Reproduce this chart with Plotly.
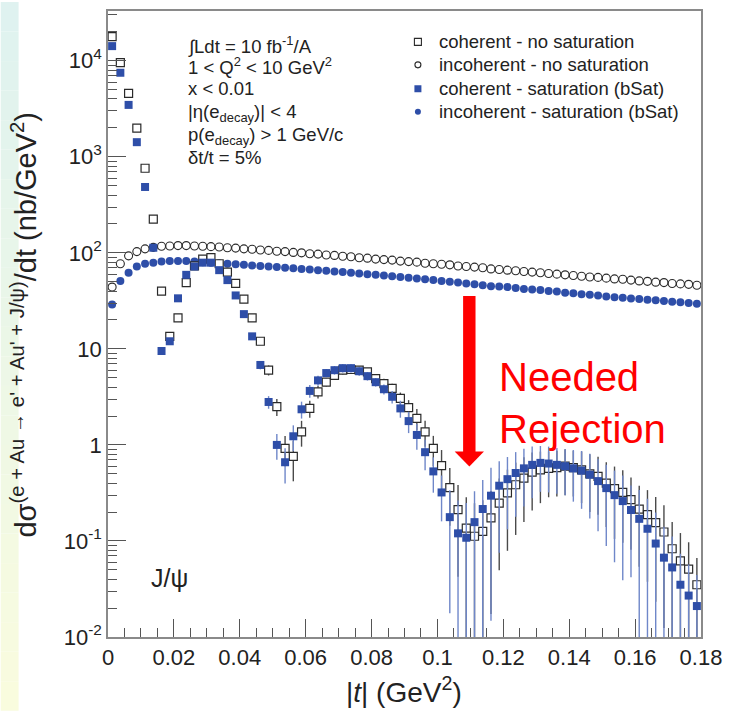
import plotly.graph_objects as go

# ---------------- data ----------------
t_centers = [
    0.00125, 0.00375, 0.00625, 0.00875, 0.01125, 0.01375, 0.01625, 0.01875, 0.02125, 0.02375,
    0.02625, 0.02875, 0.03125, 0.03375, 0.03625, 0.03875, 0.04125, 0.04375, 0.04625, 0.04875,
    0.05125, 0.05375, 0.05625, 0.05875, 0.06125, 0.06375, 0.06625, 0.06875, 0.07125, 0.07375,
    0.07625, 0.07875, 0.08125, 0.08375, 0.08625, 0.08875, 0.09125, 0.09375, 0.09625, 0.09875,
    0.10125, 0.10375, 0.10625, 0.10875, 0.11125, 0.11375, 0.11625, 0.11875, 0.12125, 0.12375,
    0.12625, 0.12875, 0.13125, 0.13375, 0.13625, 0.13875, 0.14125, 0.14375, 0.14625, 0.14875,
    0.15125, 0.15375, 0.15625, 0.15875, 0.16125, 0.16375, 0.16625, 0.16875, 0.17125, 0.17375,
    0.17625, 0.17875,
]

coherent_nosat = [
    17800, 9550, 4570, 1990, 760, 224, 40, 13.5, 21, 49,
    73, 86, 89, 77, 63, 48, 33, 21, 12, 6.0,
    2.5, 0.92, 0.76, 1.37, 2.4, 3.57, 4.5, 5.3, 6.0, 6.1,
    6.0, 5.75, 4.9, 4.35, 3.87, 3.05, 2.44, 1.89, 1.37, 0.92,
    0.61, 0.36, 0.212, 0.136, 0.112, 0.126, 0.174, 0.248, 0.316, 0.385,
    0.45, 0.52, 0.55, 0.57, 0.58, 0.60, 0.58, 0.55, 0.50, 0.47,
    0.40, 0.35, 0.32, 0.27, 0.215, 0.188, 0.155, 0.124, 0.083, 0.062,
    0.051, 0.035,
]

coherent_sat = [
    14200, 7500, 3470, 1420, 485, 113, 9.5, 12.0, 33.6, 59,
    72, 79, 79, 66, 52, 36, 23, 13.5, 6.8, 2.8,
    1.0, 0.66, 1.23, 2.35, 3.65, 4.7, 5.6, 6.0, 6.3, 6.3,
    5.85, 5.2, 4.5, 3.8, 3.17, 2.4, 1.77, 1.27, 0.84, 0.53,
    0.32, 0.177, 0.12, 0.108, 0.157, 0.215, 0.296, 0.376, 0.44, 0.51,
    0.57, 0.62, 0.65, 0.64, 0.62, 0.60, 0.57, 0.54, 0.49, 0.42,
    0.355, 0.30, 0.26, 0.21, 0.17, 0.134, 0.094, 0.067, 0.053, 0.035,
    0.027, 0.021,
]

incoherent_nosat = [
    44, 77, 93, 103, 110, 114, 117, 118, 119, 119,
    118, 117, 116, 115, 113, 112, 110, 109, 107, 106,
    104, 103, 101, 100, 98, 97, 95, 94, 92, 91,
    89, 88, 86, 85, 84, 82, 81, 80, 78, 77,
    76, 75, 73, 72, 71, 70, 68, 67, 66, 65,
    64, 63, 62, 61, 60, 59, 58, 57, 56, 55.5,
    54.5, 53.5, 53, 52, 51, 50.5, 49.5, 49, 48, 47.5,
    47, 46,
]

incoherent_sat = [
    29, 51, 62, 72, 77, 79, 81, 82, 82, 82,
    81, 80, 79, 78, 77, 76, 75, 74, 73, 72,
    71, 70, 69, 68, 67, 66, 65, 64, 63, 62,
    61, 60, 59, 58, 57, 56, 55, 54, 53, 52,
    51, 50, 49, 48, 47, 46, 45, 44.5, 44, 43,
    42, 41.5, 41, 40, 39.5, 38.5, 38, 37, 36.5, 36,
    35, 34.5, 34, 33.5, 33, 32.5, 32, 31.5, 31, 30.5,
    30, 29.5,
]

# relative (symmetric, linear) statistical uncertainties of the coherent points
rel_err_nosat = [
    0.03, 0.03, 0.03, 0.03, 0.03, 0.03, 0.03, 0.03, 0.03, 0.03,
    0.03, 0.03, 0.03, 0.03, 0.03, 0.03, 0.03, 0.05, 0.08, 0.12,
    0.20, 0.35, 0.45, 0.30, 0.20, 0.15, 0.10, 0.10, 0.10, 0.10,
    0.10, 0.10, 0.10, 0.12, 0.12, 0.15, 0.20, 0.25, 0.30, 0.35,
    0.45, 0.60, 0.80, 1.10, 1.20, 1.10, 0.90, 0.80, 0.75, 0.70,
    0.65, 0.60, 0.55, 0.50, 0.50, 0.50, 0.50, 0.55, 0.60, 0.60,
    0.65, 0.70, 0.70, 0.70, 0.75, 0.80, 0.85, 0.90, 0.90, 0.95,
    0.90, 0.90,
]
rel_err_sat = [
    0.03, 0.03, 0.03, 0.03, 0.03, 0.03, 0.05, 0.05, 0.03, 0.03,
    0.03, 0.03, 0.03, 0.03, 0.03, 0.03, 0.04, 0.06, 0.10, 0.15,
    0.30, 0.40, 0.30, 0.20, 0.15, 0.12, 0.10, 0.10, 0.10, 0.10,
    0.10, 0.10, 0.10, 0.12, 0.15, 0.20, 0.25, 0.30, 0.35, 0.40,
    0.50, 0.90, 1.20, 1.30, 1.10, 1.00, 0.95, 0.80, 0.70, 0.65,
    0.60, 0.55, 0.50, 0.50, 0.50, 0.50, 0.55, 0.60, 0.65, 0.70,
    0.75, 0.80, 0.85, 0.80, 1.00, 1.05, 1.10, 1.10, 1.10, 1.10,
    1.10, 1.10,
]

x_tick_vals = [0, 0.02, 0.04, 0.06, 0.08, 0.1, 0.12, 0.14, 0.16, 0.18]
x_tick_text = ["0", "0.02", "0.04", "0.06", "0.08", "0.1", "0.12", "0.14", "0.16", "0.18"]
y_tick_vals = [0.01, 0.1, 1, 10, 100, 1000, 10000]
y_tick_text = ["10<sup>-2</sup>", "10<sup>-1</sup>", "1", "10",
               "10<sup>2</sup>", "10<sup>3</sup>", "10<sup>4</sup>"]

legend_labels = ["coherent - no saturation", "incoherent - no saturation",
                 "coherent - saturation (bSat)", "incoherent - saturation (bSat)"]

info_lines = [
    "\u222bLdt = 10 fb<sup>-1</sup>/A",
    "1 &lt; Q<sup>2</sup> &lt; 10 GeV<sup>2</sup>",
    "x &lt; 0.01",
    "|\u03b7(e<sub>decay</sub>)| &lt; 4",
    "p(e<sub>decay</sub>) &gt; 1 GeV/c",
    "\u03b4t/t = 5%",
]

y_title = "d\u03c3<sup>(e + Au \u2192 e' + Au' + J/\u03c8)</sup>/dt (nb/GeV<sup>2</sup>)"
x_title = "|<i>t</i>| (GeV<sup>2</sup>)"

# ---------------- style ----------------
FONT = "Liberation Sans, Arial, Helvetica, sans-serif"
BLUE = "#2E4EA8"
BLUE_ERR = "#6F87C9"
DARK = "#2a2a2a"
DARK_ERR = "#4a4a4a"
FRAME = "#8a8a8a"

W, H = 731, 711
ML, MR, MT, MB = 108, 26, 9, 74
PW, PH = W - ML - MR, H - MT - MB


def px(xp):
    return (xp - ML) / PW


def py(yp):
    return (H - MB - yp) / PH


def err_arrays(vals, rel):
    plus = [v * r for v, r in zip(vals, rel)]
    minus = [v * min(r, 0.999) for v, r in zip(vals, rel)]
    return plus, minus


fig = go.Figure()

# incoherent (drawn first, squares go on top)
fig.add_trace(go.Scatter(
    x=t_centers, y=incoherent_nosat, mode="markers", showlegend=False,
    marker=dict(symbol="circle-open", size=8, color=DARK, line=dict(width=1.1, color=DARK)),
))
fig.add_trace(go.Scatter(
    x=t_centers, y=incoherent_sat, mode="markers", showlegend=False,
    marker=dict(symbol="circle", size=8, color=BLUE, line=dict(width=0)),
))

# coherent - no saturation
p1, m1 = err_arrays(coherent_nosat, rel_err_nosat)
fig.add_trace(go.Scatter(
    x=t_centers, y=coherent_nosat, mode="markers", showlegend=False,
    marker=dict(size=2, opacity=0),
    error_y=dict(type="data", symmetric=False, array=p1, arrayminus=m1,
                 color=DARK_ERR, thickness=1.4, width=0),
))
fig.add_trace(go.Scatter(
    x=t_centers, y=coherent_nosat, mode="markers", showlegend=False,
    marker=dict(symbol="square", size=8, color="white", line=dict(width=1.2, color=DARK)),
))

# coherent - saturation
p2, m2 = err_arrays(coherent_sat, rel_err_sat)
fig.add_trace(go.Scatter(
    x=t_centers, y=coherent_sat, mode="markers", showlegend=False,
    marker=dict(size=2, opacity=0),
    error_y=dict(type="data", symmetric=False, array=p2, arrayminus=m2,
                 color=BLUE_ERR, thickness=1.4, width=0),
))
fig.add_trace(go.Scatter(
    x=t_centers, y=coherent_sat, mode="markers", showlegend=False,
    marker=dict(symbol="square", size=8, color=BLUE, line=dict(width=0)),
))

# manual legend (markers on an overlay unit axis)
leg_y_px = [40, 63, 87, 110]
leg_styles = [
    dict(symbol="square", size=7, color="white", line=dict(width=1.1, color=DARK)),
    dict(symbol="circle-open", size=6, color=DARK, line=dict(width=1.1, color=DARK)),
    dict(symbol="square", size=7, color=BLUE, line=dict(width=0)),
    dict(symbol="circle", size=6, color=BLUE, line=dict(width=0)),
]
for yp, st in zip(leg_y_px, leg_styles):
    fig.add_trace(go.Scatter(x=[px(420)], y=[py(yp)], mode="markers", marker=st,
                             xaxis="x2", yaxis="y2", showlegend=False, hoverinfo="skip"))

annotations = []
for yp, lab in zip(leg_y_px, legend_labels):
    annotations.append(dict(x=px(439), y=py(yp), xref="paper", yref="paper", text=lab,
                            showarrow=False, xanchor="left", yanchor="middle",
                            font=dict(family=FONT, size=18.5, color="#222")))

info_y_px = [43, 64, 87, 111, 134, 156]
for yp, line in zip(info_y_px, info_lines):
    annotations.append(dict(x=px(187), y=py(yp), xref="paper", yref="paper", text=line,
                            showarrow=False, xanchor="left", yanchor="middle",
                            font=dict(family=FONT, size=18.5, color="#222")))

annotations.append(dict(x=px(149), y=py(578), xref="paper", yref="paper", text="J/\u03c8",
                        showarrow=False, xanchor="left", yanchor="middle",
                        font=dict(family=FONT, size=25, color="#222")))
annotations.append(dict(x=px(500), y=py(402), xref="paper", yref="paper",
                        text="Needed<br>Rejection", showarrow=False, xanchor="left",
                        yanchor="middle", align="left",
                        font=dict(family=FONT, size=40, color="#FF0000")))
# axis titles
annotations.append(dict(x=px(23), y=py(324), xref="paper", yref="paper", text=y_title,
                        textangle=-90, showarrow=False, xanchor="center", yanchor="middle",
                        font=dict(family=FONT, size=29, color="#222")))
annotations.append(dict(x=px(406), y=py(690), xref="paper", yref="paper", text=x_title,
                        showarrow=False, xanchor="center", yanchor="middle",
                        font=dict(family=FONT, size=28, color="#222")))

shapes = []
# left page gradient strip
top_c = (222, 242, 240)
bot_c = (250, 252, 222)
nb = 24
for i in range(nb):
    f = (i + 0.5) / nb
    c = tuple(int(round(a + (b - a) * f)) for a, b in zip(top_c, bot_c))
    y0p = H * i / nb
    y1p = H * (i + 1) / nb
    shapes.append(dict(type="rect", xref="paper", yref="paper", layer="below",
                       x0=px(0), x1=px(18), y0=py(y1p), y1=py(y0p),
                       fillcolor="rgb(%d,%d,%d)" % c, line=dict(width=0)))

# red arrow
shapes.append(dict(type="rect", xref="paper", yref="paper",
                   x0=px(465.5), x1=px(478), y0=py(452), y1=py(295),
                   fillcolor="#FF0000", line=dict(width=0)))
shapes.append(dict(type="path", xref="paper", yref="paper",
                   path="M %f,%f L %f,%f L %f,%f Z" % (px(457), py(451), px(486.5), py(451),
                                                      px(471.8), py(466)),
                   fillcolor="#FF0000", line=dict(width=0)))

minor_y = []
for d in range(-2, 5):
    for m in range(2, 10):
        v = m * 10 ** d
        if v < 33000:
            minor_y.append(v)

fig.update_layout(
    width=W, height=H,
    margin=dict(l=ML, r=MR, t=MT, b=MB),
    paper_bgcolor="white", plot_bgcolor="white",
    font=dict(family=FONT, color="#222"),
    showlegend=False,
    annotations=annotations,
    shapes=shapes,
    xaxis=dict(
        range=[0, 0.18], tickmode="array", tickvals=x_tick_vals, ticktext=x_tick_text,
        ticks="inside", ticklen=18, tickwidth=1.2, tickcolor="#555",
        minor=dict(ticks="inside", ticklen=9, tickwidth=1.2, tickcolor="#555",
                   tickmode="linear", tick0=0, dtick=0.005, showgrid=False),
        showline=True, linecolor=FRAME, linewidth=1.5, mirror=True,
        showgrid=False, zeroline=False,
        tickfont=dict(family=FONT, size=22, color="#222"),
    ),
    yaxis=dict(
        type="log", range=[-2, 4.518], tickmode="array", tickvals=y_tick_vals,
        ticktext=y_tick_text,
        ticks="inside", ticklen=18, tickwidth=1.2, tickcolor="#555",
        minor=dict(ticks="inside", ticklen=9, tickwidth=1.2, tickcolor="#555",
                   tickmode="array", tickvals=minor_y, showgrid=False),
        showline=True, linecolor=FRAME, linewidth=1.5, mirror=True,
        showgrid=False, zeroline=False,
        tickfont=dict(family=FONT, size=22, color="#222"),
    ),
    xaxis2=dict(range=[0, 1], overlaying="x", visible=False, fixedrange=True),
    yaxis2=dict(range=[0, 1], overlaying="y", visible=False, fixedrange=True),
)

fig.write_html("out.html")
